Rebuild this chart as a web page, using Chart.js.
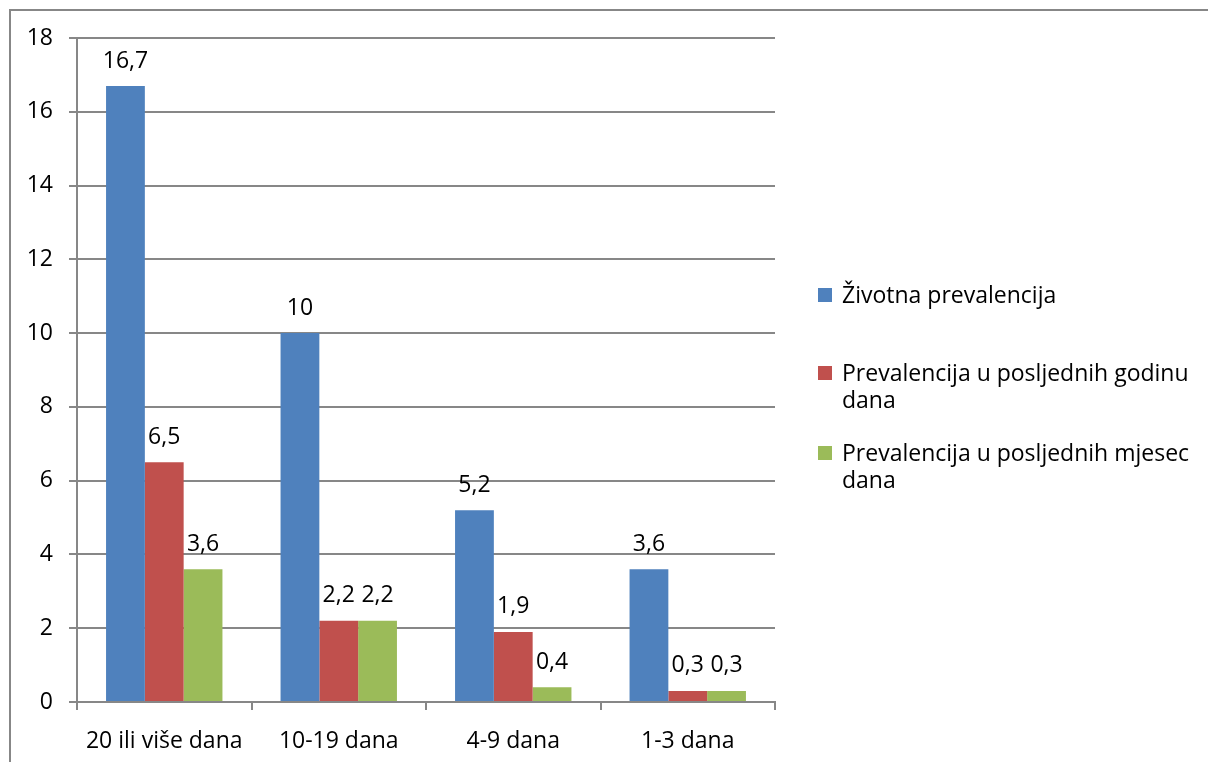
<!DOCTYPE html>
<html>
<head>
<meta charset="utf-8">
<script src="https://cdn.jsdelivr.net/npm/chart.js@4/dist/chart.umd.min.js"></script>
<style>
  body { margin: 0; background: #fff; font-family: "Open Sans", sans-serif; }
  #wrap { position: relative; width: 1208px; height: 762px; overflow: hidden; }
  #frame { position: absolute; left: 9px; top: 9px; width: 1300px; height: 900px; border: 2px solid #878787; box-sizing: border-box; }
  #myChart { position: absolute; left: 0; top: 0; }
  #legend { position: absolute; left: 818px; top: 281px; width: 386px; font-size: 23px; color: #000; }
  #legend .item { position: relative; padding-left: 24px; line-height: 27px; margin-bottom: 26px; }
  #legend .box { position: absolute; left: 0; top: 7px; width: 14px; height: 14px; }
</style>
</head>
<body>
<div id="wrap">
  <div id="frame"></div>
  <canvas id="myChart" width="1208" height="762"></canvas>
  <div id="legend"></div>
</div>
<script>
// podaci
var kategorije = ["20 ili više dana", "10-19 dana", "4-9 dana", "1-3 dana"];
var zivotna = [16.7, 10, 5.2, 3.6];
var godina = [6.5, 2.2, 1.9, 0.3];
var mjesec = [3.6, 2.2, 0.4, 0.3];
var serije = ["Životna prevalencija", "Prevalencija u posljednih godinu dana", "Prevalencija u posljednih mjesec dana"];
var boje = ["#4F81BD", "#C0504D", "#9BBB59"];
var yTicks = [0, 2, 4, 6, 8, 10, 12, 14, 16, 18];

var font = "Open Sans";
var vel = 23;

// vrijednosti iznad stupaca
var labelPlugin = {
  id: "vrijednosti",
  afterDatasetsDraw: function (chart) {
    var ctx = chart.ctx;
    ctx.save();
    ctx.font = vel + "px '" + font + "'";
    ctx.fillStyle = "#000";
    ctx.textAlign = "center";
    ctx.textBaseline = "middle";
    chart.data.datasets.forEach(function (ds, i) {
      chart.getDatasetMeta(i).data.forEach(function (bar, j) {
        var txt = String(ds.data[j]).replace(".", ",");
        ctx.fillText(txt, bar.x, bar.y - 25);
      });
    });
    ctx.restore();
  },
};

var chart = new Chart("myChart", {
  type: "bar",
  data: {
    labels: kategorije,
    datasets: [
      { label: serije[0], data: zivotna, backgroundColor: boje[0] },
      { label: serije[1], data: godina, backgroundColor: boje[1] },
      { label: serije[2], data: mjesec, backgroundColor: boje[2] },
    ],
  },
  options: {
    responsive: false,
    animation: false,
    layout: { padding: { top: 38, right: 433, bottom: 0, left: 0 } },
    categoryPercentage: 0.667,
    barPercentage: 1,
    plugins: {
      legend: { display: false },
      tooltip: { enabled: false },
    },
    scales: {
      x: {
        grid: { drawOnChartArea: false, color: "#878787", lineWidth: 2, tickLength: 8 },
        border: { color: "#878787", width: 2 },
        ticks: { color: "#000", font: { family: font, size: vel }, padding: 18 },
        afterFit: function (s) { s.height = 60; },
      },
      y: {
        min: 0,
        max: 18,
        afterBuildTicks: function (s) { s.ticks = yTicks.map(function (v) { return { value: v }; }); },
        grid: { color: "#878787", lineWidth: 2, tickLength: 8 },
        border: { color: "#878787", width: 2 },
        ticks: { color: "#000", font: { family: font, size: vel }, padding: 16 },
        afterFit: function (s) { s.width = 77; },
      },
    },
  },
  plugins: [labelPlugin],
});

// legenda
var legenda = document.querySelector("#legend");
chart.data.datasets.forEach(function (ds) {
  var item = document.createElement("div");
  item.className = "item";
  var box = document.createElement("span");
  box.className = "box";
  box.style.background = ds.backgroundColor;
  item.appendChild(box);
  item.appendChild(document.createTextNode(ds.label));
  legenda.appendChild(item);
});
legenda.children[0].style.marginBottom = "51px";
</script>
</body>
</html>
